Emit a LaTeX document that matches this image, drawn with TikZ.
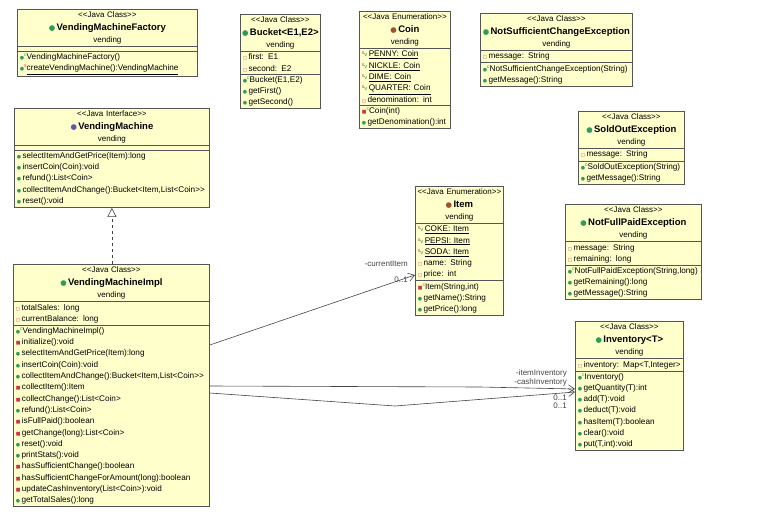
\documentclass[tikz,border=0pt]{standalone}
\usepackage{fontspec}
\setmainfont{Liberation Sans}
\newfontfamily\symf{DejaVu Sans}
\usetikzlibrary{shapes.multipart,arrows.meta}
\definecolor{clsfill}{HTML}{FFFFCC}
\definecolor{clsdraw}{HTML}{555555}
\definecolor{icgreen}{HTML}{2E9B57}
\definecolor{icred}{HTML}{D0304A}
\definecolor{icblue}{HTML}{5A5AB0}
\definecolor{icbrown}{HTML}{A0522D}
\definecolor{linec}{HTML}{444444}
% member icons
\newcommand{\pubm}{{\symf\color{icgreen}\scalebox{0.6}{●}}\,}
\newcommand{\privm}{{\symf\color{icred}\scalebox{0.6}{■}}\,}
\newcommand{\privf}{{\symf\color{icred}\scalebox{0.55}{□}}\,}
\newcommand{\ctor}{{\symf\color{icgreen}\scalebox{0.6}{●}}\raisebox{3pt}{\color{icgreen}\fontsize{5}{5}\selectfont c}}
\newcommand{\pctor}{{\symf\color{icred}\scalebox{0.6}{■}}\raisebox{3pt}{\color{icgreen}\fontsize{5}{5}\selectfont c}}
\newcommand{\sctor}{{\symf\color{icgreen}\scalebox{0.6}{●}}\raisebox{3pt}{\color{icred}\fontsize{5}{5}\selectfont s}}
\newcommand{\sfld}{\raisebox{2pt}{\color{icred}\fontsize{5}{5}\selectfont s}{\color{icgreen}\fontsize{6}{6}\selectfont v}\,}
\newcommand{\st}[1]{{<}{<}#1{>}{>}}
\newcommand{\hd}[4]{\makebox[\linewidth][c]{\fontsize{8}{10}\selectfont \st{#1}}\\[1.5pt]
  \makebox[\linewidth][c]{{\symf\color{#2}\scalebox{0.9}{●}}\,\textbf{\fontsize{9.5}{11}\selectfont #3}}\\[1.5pt]
  \makebox[\linewidth][c]{\fontsize{8}{10}\selectfont #4}}
\tikzset{
  cls/.style={draw=clsdraw, fill=clsfill, line width=0.8pt,
    rectangle split, rectangle split parts=3, rectangle split empty part height=1pt,
    anchor=north west, align=left, inner xsep=2.5pt, inner ysep=1.8pt,
    font=\fontsize{8.2}{11.3}\selectfont},
  assoc/.style={draw=linec, line width=0.6pt},
  lbl/.style={font=\fontsize{8}{9}\selectfont, inner sep=0pt, text=linec}
}
\begin{document}
\begin{tikzpicture}[x=1pt,y=-1pt]
\useasboundingbox (0,0) rectangle (760,532);

\node[cls, text width=175pt] (factory) at (17,9)
 {\hd{Java Class}{icgreen}{VendingMachineFactory}{vending}
  \nodepart{two}
  \nodepart{three}\ctor VendingMachineFactory()\\
  \sctor\underline{createVendingMachine():VendingMachine}};

\node[cls, text width=75pt] (bucket) at (240,14)
 {\hd{Java Class}{icgreen}{Bucket<E1,E2>}{vending}
  \nodepart{two}\privf first: E1\\ \privf second: E2
  \nodepart{three}\ctor Bucket(E1,E2)\\ \pubm getFirst()\\ \pubm getSecond()};

\node[cls, text width=86pt] (coin) at (359,11)
 {\hd{Java Enumeration}{icbrown}{Coin}{vending}
  \nodepart{two}\sfld\underline{PENNY: Coin}\\ \sfld\underline{NICKLE: Coin}\\
  \sfld\underline{DIME: Coin}\\ \sfld\underline{QUARTER: Coin}\\ \privf denomination: int
  \nodepart{three}\pctor Coin(int)\\ \pubm getDenomination():int};

\node[cls, text width=147pt] (nsce) at (480,13)
 {\hd{Java Class}{icgreen}{NotSufficientChangeException}{vending}
  \nodepart{two}\privf message: String
  \nodepart{three}\ctor NotSufficientChangeException(String)\\ \pubm getMessage():String};

\node[cls, text width=101pt] (soldout) at (578,111)
 {\hd{Java Class}{icgreen}{SoldOutException}{vending}
  \nodepart{two}\privf message: String
  \nodepart{three}\ctor SoldOutException(String)\\ \pubm getMessage():String};

\node[cls, text width=131pt] (nfpe) at (565,204)
 {\hd{Java Class}{icgreen}{NotFullPaidException}{vending}
  \nodepart{two}\privf message: String\\ \privf remaining: long
  \nodepart{three}\ctor NotFullPaidException(String,long)\\ \pubm getRemaining():long\\ \pubm getMessage():String};

\node[cls, text width=83pt] (item) at (415,186)
 {\hd{Java Enumeration}{icbrown}{Item}{vending}
  \nodepart{two}\sfld\underline{COKE: Item}\\ \sfld\underline{PEPSI: Item}\\ \sfld\underline{SODA: Item}\\
  \privf name: String\\ \privf price: int
  \nodepart{three}\pctor Item(String,int)\\ \pubm getName():String\\ \pubm getPrice():long};

\node[cls, text width=103pt] (inventory) at (575,321)
 {\hd{Java Class}{icgreen}{Inventory<T>}{vending}
  \nodepart{two}\privf inventory: Map<T,Integer>
  \nodepart{three}\ctor Inventory()\\ \pubm getQuantity(T):int\\ \pubm add(T):void\\ \pubm deduct(T):void\\
  \pubm hasItem(T):boolean\\ \pubm clear():void\\ \pubm put(T,int):void};

\node[cls, text width=190pt] (vm) at (14,108)
 {\hd{Java Interface}{icblue}{VendingMachine}{vending}
  \nodepart{two}
  \nodepart{three}\pubm selectItemAndGetPrice(Item):long\\ \pubm insertCoin(Coin):void\\
  \pubm refund():List<Coin>\\ \pubm collectItemAndChange():Bucket<Item,List<Coin>{}>\\ \pubm reset():void};

\node[cls, text width=191pt] (impl) at (13,264)
 {\hd{Java Class}{icgreen}{VendingMachineImpl}{vending}
  \nodepart{two}\privf totalSales: long\\ \privf currentBalance: long
  \nodepart{three}\ctor VendingMachineImpl()\\ \privm initialize():void\\
  \pubm selectItemAndGetPrice(Item):long\\ \pubm insertCoin(Coin):void\\
  \pubm collectItemAndChange():Bucket<Item,List<Coin>{}>\\ \privm collectItem():Item\\
  \privm collectChange():List<Coin>\\ \pubm refund():List<Coin>\\ \privm isFullPaid():boolean\\
  \privm getChange(long):List<Coin>\\ \pubm reset():void\\ \pubm printStats():void\\
  \privm hasSufficientChange():boolean\\ \privm hasSufficientChangeForAmount(long):boolean\\
  \privm updateCashInventory(List<Coin>):void\\ \pubm getTotalSales():long};

% realization
\draw[assoc, dashed, -{Triangle[open,length=9pt,width=9pt]}]
  (impl.north -| vm.south) -- (vm.south);
% associations
\draw[assoc, -{Straight Barb[length=6pt,width=8pt]}] (impl.east |- 0,345) -- (item.west |- 0,275);
\node[lbl, anchor=south east] (curlbl) at (408,267) {-currentItem};
\node[lbl, anchor=north east] (mult1) at (408,277) {0..1};
\coordinate (bend) at (395,406);
\draw[assoc, -{Straight Barb[length=6pt,width=8pt]}] (impl.east |- 0,386) -- (480,387) -- (inventory.west |- 0,389);
\draw[assoc, -{Straight Barb[length=6pt,width=8pt]}] (impl.east |- 0,393) -- (bend) -- (inventory.west |- 0,392);
\node[lbl, anchor=south east] (itemlbl) at (567,377) {-itemInventory};
\node[lbl, anchor=south east] (cashlbl) at (567,386) {-cashInventory};
\node[lbl, anchor=north east] (mult2) at (567,395) {0..1};
\node[lbl, anchor=north east] (mult3) at (567,403) {0..1};
\end{tikzpicture}
\end{document}
